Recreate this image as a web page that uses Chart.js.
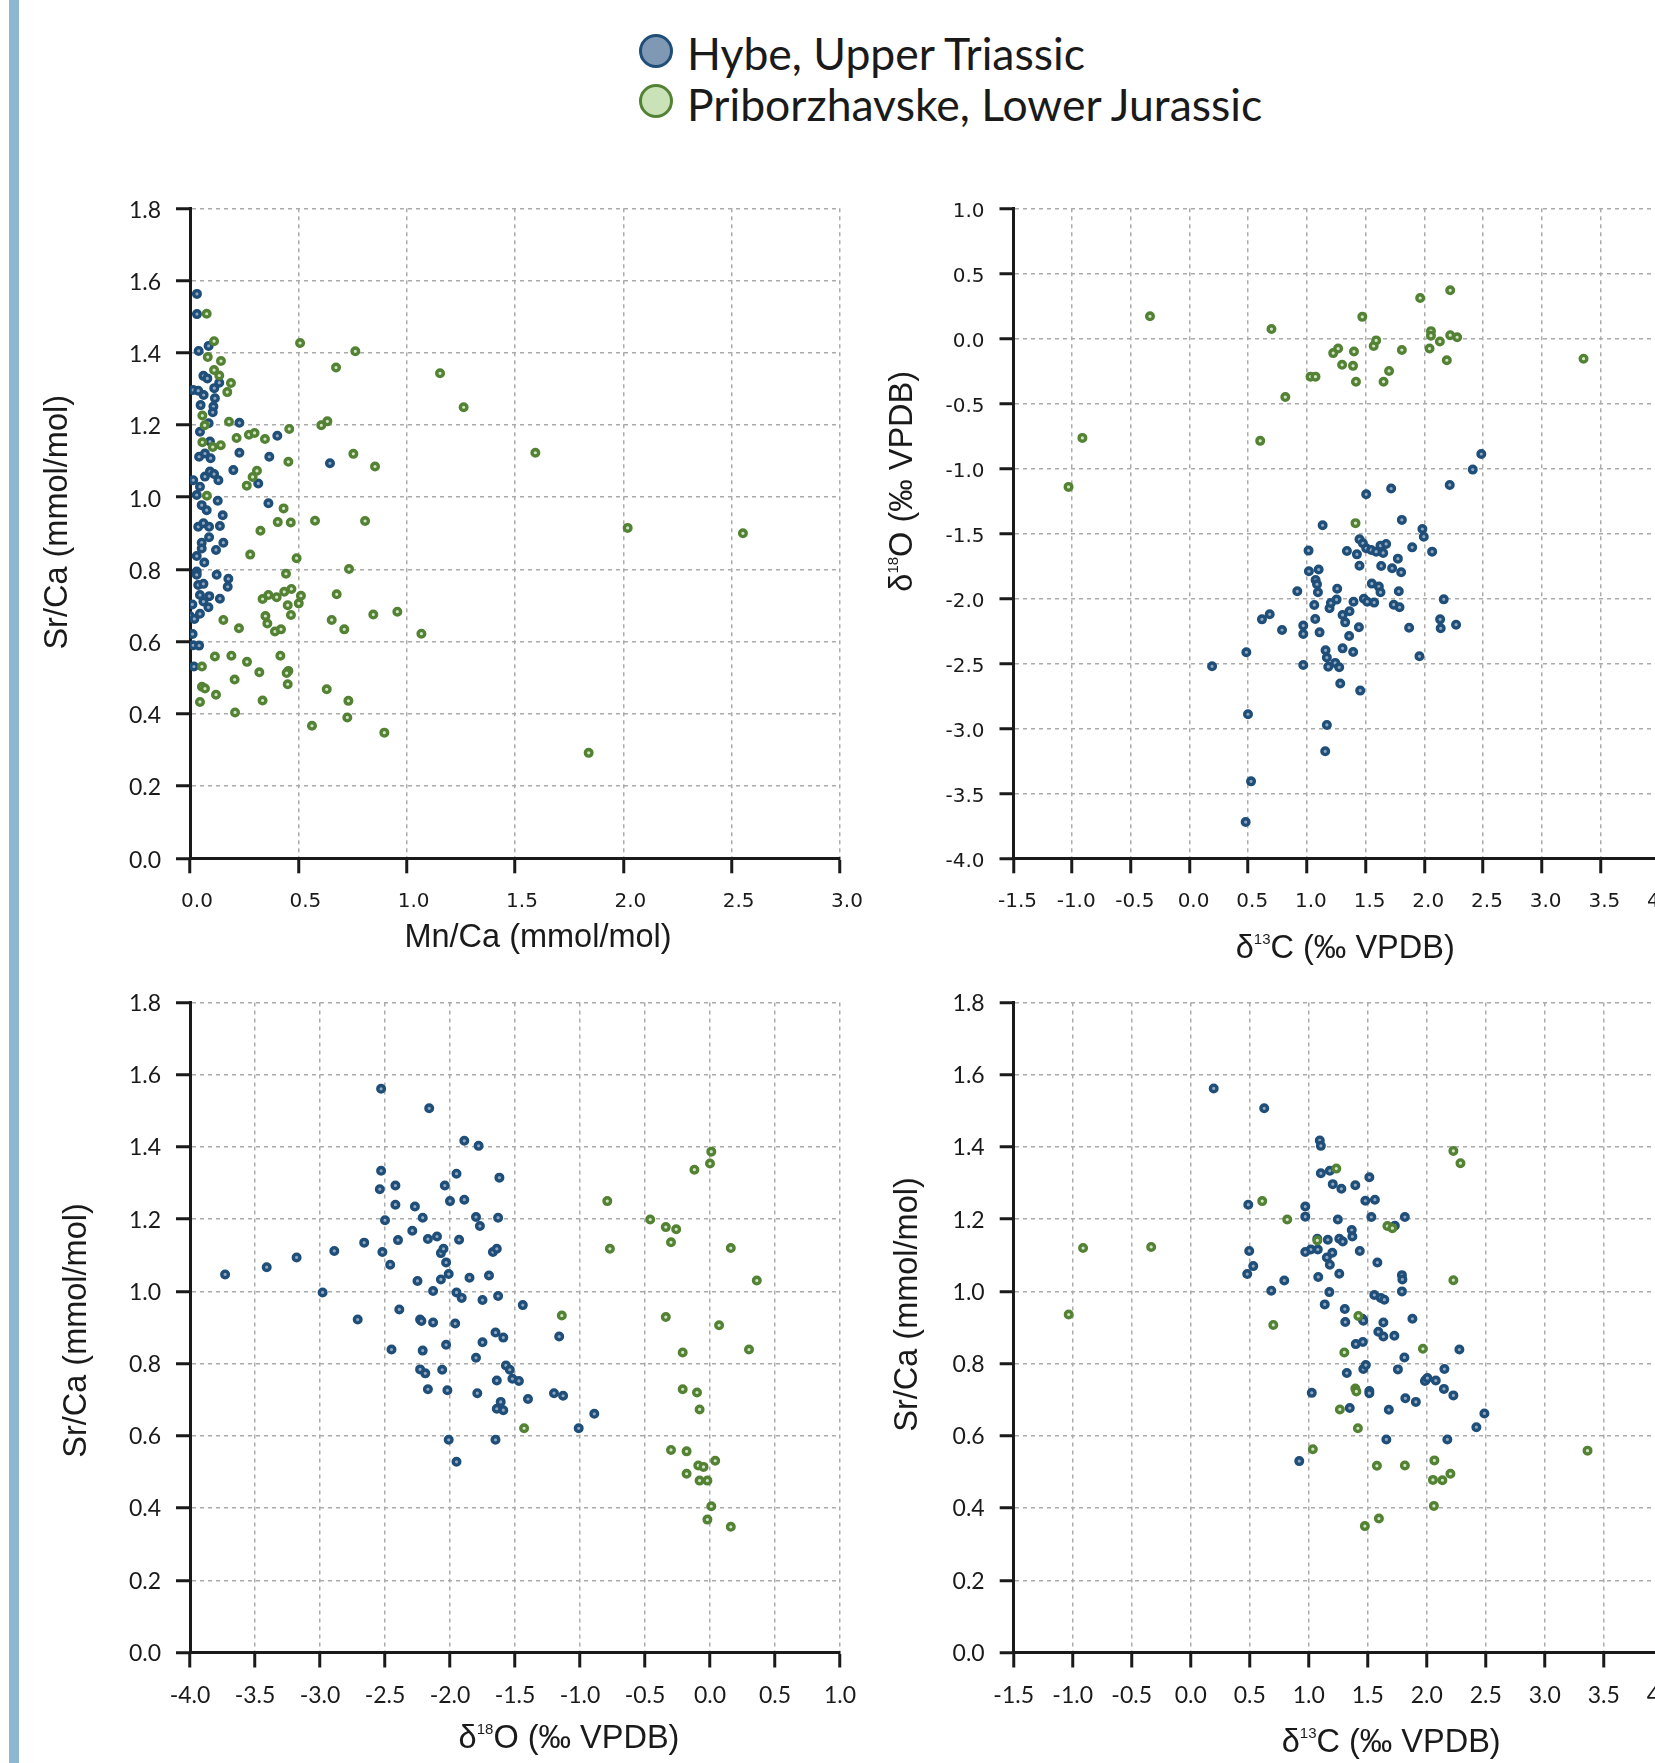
<!DOCTYPE html>
<html>
<head>
<meta charset="utf-8">
<script src="https://cdn.jsdelivr.net/npm/chart.js@4.4.1/dist/chart.umd.min.js"></script>
<style>
html,body{margin:0;padding:0;width:1655px;height:1763px;overflow:hidden;background:#ffffff;}
#bar{position:absolute;left:9px;top:0;width:10px;height:1763px;background:#8db7d1;}
canvas{position:absolute;}
#legend{position:absolute;left:639px;top:25.3px;font-family:Lato,sans-serif;font-size:44.5px;color:#1a1a1a;}
.row{height:50.6px;display:flex;align-items:center;white-space:nowrap;}
.dot{width:28px;height:28px;border-radius:50%;border:3px solid;margin-right:14px;flex:none;}
.lab{padding-top:4px;}
</style>
</head>
<body>
<div id="bar"></div>
<div id="legend"></div>
<canvas id="cA"></canvas>
<canvas id="cB"></canvas>
<canvas id="cC"></canvas>
<canvas id="cD"></canvas>
<script>
// ---------- series ----------
const seriesNames = ['Hybe, Upper Triassic', 'Priborzhavske, Lower Jurassic'];
const seriesLine  = ['#1f4e79', '#548235'];
const seriesFill  = ['#8ea8c3', '#d3e6c3'];
const legendFill  = ['#7f99b5', '#c9e2b8'];

// ---------- axis ranges [min, max, step] ----------
const mnCaRange  = [0, 3, 0.5];
const srCaRange  = [0, 1.8, 0.2];
const d13CRange  = [-1.5, 4, 0.5];
const d18ORangeA = [-4, 1, 0.5];   // as y in panel B
const d18ORangeC = [-4, 1, 0.5];   // as x in panel C

// ---------- axis titles ----------
const titleSrCa = ['Sr/Ca (mmol/mol)'];
const titleMnCa = ['Mn/Ca (mmol/mol)'];
const titleD13C = ['\u03B4', {sup: '13'}, 'C (\u2030 VPDB)'];
const titleD18O = ['\u03B4', {sup: '18'}, 'O (\u2030 VPDB)'];

// ---------- Panel A: Mn/Ca vs Sr/Ca ----------
const hybeMnSr = [[0.032,1.563],[0.032,1.507],[0.040,1.405],[0.086,1.419],[0.062,1.336],[0.080,1.329],[0.015,1.297],[0.038,1.295],[0.063,1.283],[0.112,1.302],[0.135,1.317],[0.115,1.274],[0.049,1.255],[0.108,1.251],[0.105,1.235],[0.086,1.205],[0.228,1.206],[0.046,1.181],[0.092,1.154],[0.042,1.112],[0.069,1.121],[0.095,1.108],[0.228,1.123],[0.200,1.075],[0.015,1.047],[0.046,1.029],[0.069,1.057],[0.092,1.071],[0.111,1.064],[0.131,1.047],[0.031,1.006],[0.054,0.978],[0.077,0.964],[0.128,0.990],[0.315,1.038],[0.366,1.112],[0.403,1.170],[0.362,0.983],[0.151,0.950],[0.646,1.094],[0.038,0.918],[0.062,0.928],[0.088,0.918],[0.138,0.920],[0.088,0.889],[0.054,0.874],[0.154,0.874],[0.120,0.854],[0.031,0.837],[0.054,0.858],[0.066,0.819],[0.031,0.794],[0.031,0.785],[0.123,0.785],[0.177,0.774],[0.174,0.752],[0.038,0.757],[0.062,0.760],[0.046,0.729],[0.089,0.726],[0.062,0.711],[0.138,0.719],[0.085,0.695],[0.011,0.703],[0.046,0.677],[0.000,0.671],[0.020,0.663],[0.012,0.621],[0.015,0.590],[0.042,0.589],[0.018,0.531]];
const pribMnSr = [[0.077,1.508],[0.111,1.432],[0.082,1.388],[0.143,1.377],[0.111,1.352],[0.135,1.337],[0.189,1.316],[0.172,1.291],[0.057,1.226],[0.068,1.199],[0.180,1.209],[0.057,1.152],[0.105,1.139],[0.142,1.144],[0.215,1.164],[0.272,1.173],[0.298,1.178],[0.346,1.161],[0.458,1.189],[0.454,1.098],[0.309,1.073],[0.289,1.056],[0.262,1.032],[0.078,1.004],[0.432,0.969],[0.405,0.931],[0.465,0.930],[0.325,0.907],[0.577,0.935],[0.808,0.934],[0.278,0.841],[0.492,0.831],[0.443,0.788],[0.734,0.801],[0.335,0.718],[0.362,0.729],[0.400,0.723],[0.435,0.738],[0.468,0.746],[0.512,0.727],[0.451,0.701],[0.502,0.706],[0.677,0.731],[0.348,0.671],[0.357,0.650],[0.466,0.674],[0.654,0.660],[0.846,0.675],[0.957,0.683],[0.154,0.660],[0.226,0.637],[0.392,0.628],[0.420,0.634],[0.712,0.634],[1.068,0.622],[0.508,1.427],[0.674,1.359],[0.763,1.404],[0.606,1.199],[0.634,1.210],[0.754,1.120],[0.854,1.085],[1.154,1.343],[1.263,1.249],[1.594,1.123],[2.020,0.915],[2.552,0.900],[1.840,0.292],[0.055,0.531],[0.115,0.559],[0.191,0.561],[0.263,0.544],[0.320,0.515],[0.417,0.561],[0.454,0.519],[0.446,0.513],[0.451,0.482],[0.206,0.495],[0.055,0.475],[0.069,0.470],[0.120,0.453],[0.046,0.433],[0.335,0.437],[0.208,0.404],[0.631,0.468],[0.731,0.436],[0.726,0.390],[0.563,0.367],[0.897,0.348]];

// ---------- Panel B: d13C vs d18O ----------
const hybeCO = [[0.192,-2.523],[0.484,-2.415],[0.498,-2.892],[0.524,-3.408],[0.478,-3.721],[0.617,-2.162],[0.683,-2.123],[0.788,-2.244],[0.918,-1.946],[0.969,-2.210],[0.969,-2.274],[0.969,-2.513],[1.014,-1.633],[1.017,-1.792],[1.100,-1.779],[1.074,-1.859],[1.086,-1.892],[1.094,-1.954],[1.063,-2.051],[1.071,-2.159],[1.108,-2.262],[1.134,-1.438],[1.159,-2.400],[1.170,-2.456],[1.182,-2.526],[1.241,-2.497],[1.275,-2.531],[1.284,-2.656],[1.170,-2.974],[1.156,-3.177],[1.193,-2.077],[1.204,-2.036],[1.253,-2.010],[1.258,-1.926],[1.304,-2.128],[1.326,-2.185],[1.363,-2.100],[1.360,-2.290],[1.304,-2.385],[1.394,-2.413],[1.454,-2.710],[1.443,-2.223],[1.341,-1.636],[1.426,-1.662],[1.448,-1.749],[1.397,-2.026],[1.448,-1.546],[1.477,-1.577],[1.505,-1.615],[1.548,-1.628],[1.590,-1.641],[1.627,-1.595],[1.675,-1.582],[1.650,-1.651],[1.633,-1.751],[1.505,-1.200],[1.718,-1.156],[1.809,-1.397],[1.897,-1.608],[1.726,-1.769],[1.803,-1.800],[1.775,-1.695],[1.553,-1.887],[1.613,-1.910],[1.627,-1.954],[1.485,-2.003],[1.514,-2.026],[1.573,-2.033],[1.783,-1.946],[1.740,-2.049],[1.789,-2.069],[1.871,-2.226],[1.984,-1.467],[1.996,-1.526],[2.067,-1.641],[2.166,-2.008],[2.135,-2.162],[2.140,-2.231],[2.271,-2.203],[1.959,-2.446],[2.217,-1.128],[2.413,-1.010],[2.486,-0.890]];
const pribCO = [[-1.031,-1.143],[-0.913,-0.766],[-0.337,0.169],[0.602,-0.789],[0.698,0.071],[0.816,-0.452],[1.031,-0.295],[1.073,-0.295],[1.224,-0.114],[1.266,-0.079],[1.300,-0.204],[1.393,-0.212],[1.401,-0.102],[1.418,-0.334],[1.472,0.165],[1.569,-0.059],[1.590,-0.016],[1.653,-0.334],[1.700,-0.251],[1.809,-0.090],[1.965,0.310],[2.057,0.055],[2.057,0.020],[2.045,-0.079],[2.133,-0.024],[2.192,-0.169],[2.221,0.369],[2.221,0.024],[2.280,0.008],[3.357,-0.157],[1.414,-1.422]];

// ---------- Panel C: d18O vs Sr/Ca ----------
const hybeOSr = [[-3.73,1.047],[-3.41,1.067],[-3.18,1.094],[-2.89,1.112],[-2.98,0.997],[-2.71,0.922],[-2.66,1.135],[-2.53,1.561],[-2.53,1.334],[-2.54,1.283],[-2.50,1.197],[-2.52,1.109],[-2.46,1.074],[-2.39,0.950],[-2.45,0.839],[-2.42,1.293],[-2.42,1.240],[-2.40,1.142],[-2.27,1.235],[-2.29,1.168],[-2.21,1.204],[-2.25,1.029],[-2.23,0.922],[-2.22,0.918],[-2.16,1.507],[-2.17,1.145],[-2.10,1.152],[-2.07,1.106],[-2.05,1.118],[-2.03,1.080],[-2.01,1.048],[-2.07,1.033],[-2.13,1.001],[-2.13,0.914],[-2.21,0.836],[-2.23,0.784],[-2.19,0.773],[-2.17,0.729],[-2.04,1.293],[-2.00,1.250],[-1.95,1.326],[-1.89,1.417],[-1.78,1.403],[-1.89,1.254],[-1.93,1.143],[-1.95,0.997],[-1.91,0.982],[-1.96,0.911],[-2.03,0.852],[-2.06,0.783],[-2.02,0.726],[-2.01,0.589],[-1.95,0.528],[-1.85,1.038],[-1.80,1.206],[-1.77,1.181],[-1.75,0.976],[-1.75,0.859],[-1.80,0.816],[-1.79,0.718],[-1.70,1.044],[-1.67,1.109],[-1.64,1.118],[-1.63,1.204],[-1.62,1.315],[-1.63,0.987],[-1.65,0.886],[-1.59,0.872],[-1.57,0.795],[-1.54,0.783],[-1.64,0.753],[-1.52,0.758],[-1.47,0.752],[-1.61,0.694],[-1.64,0.675],[-1.59,0.671],[-1.65,0.589],[-1.44,0.962],[-1.40,0.702],[-1.20,0.718],[-1.13,0.711],[-1.16,0.875],[-0.89,0.661],[-1.01,0.621]];
const pribOSr = [[-1.43,0.621],[-1.14,0.933],[-0.79,1.250],[-0.77,1.118],[-0.46,1.199],[-0.34,1.178],[-0.26,1.172],[-0.30,1.136],[-0.12,1.337],[0.01,1.387],[0.00,1.354],[0.16,1.120],[0.36,1.030],[-0.34,0.929],[0.07,0.906],[-0.21,0.831],[0.30,0.839],[-0.21,0.729],[-0.10,0.720],[-0.08,0.673],[-0.30,0.561],[-0.18,0.557],[0.04,0.531],[-0.09,0.518],[-0.05,0.514],[-0.18,0.495],[-0.08,0.476],[-0.02,0.476],[0.01,0.405],[-0.02,0.368],[0.16,0.348]];

// ---------- Panel D: d13C vs Sr/Ca ----------
const hybeCSr = [[0.195,1.562],[0.623,1.507],[1.094,1.418],[1.103,1.403],[1.103,1.327],[1.179,1.334],[1.204,1.297],[1.277,1.284],[1.395,1.294],[1.514,1.316],[1.480,1.251],[1.561,1.254],[1.531,1.206],[1.815,1.206],[1.730,1.182],[0.488,1.240],[0.971,1.235],[0.971,1.207],[1.247,1.199],[1.365,1.170],[1.370,1.152],[1.259,1.146],[1.289,1.138],[1.162,1.143],[1.073,1.146],[1.077,1.116],[1.018,1.116],[0.971,1.109],[0.496,1.112],[0.530,1.070],[0.479,1.048],[0.793,1.030],[0.683,1.002],[1.081,1.040],[1.154,1.094],[1.200,1.107],[1.179,1.074],[1.259,1.049],[1.433,1.112],[1.582,1.080],[1.175,0.998],[1.136,0.964],[1.306,0.951],[1.310,0.915],[1.455,0.924],[1.463,0.919],[1.556,0.990],[1.611,0.982],[1.641,0.977],[1.790,1.045],[1.794,1.033],[1.790,1.000],[1.633,0.914],[1.879,0.924],[1.590,0.888],[1.633,0.875],[1.726,0.877],[1.399,0.854],[1.459,0.860],[1.463,0.785],[1.484,0.796],[1.323,0.774],[1.756,0.784],[1.811,0.817],[1.514,0.724],[1.514,0.718],[1.026,0.719],[1.348,0.677],[1.679,0.672],[1.819,0.704],[1.908,0.694],[1.993,0.755],[1.985,0.752],[2.006,0.760],[2.077,0.753],[2.150,0.785],[2.146,0.730],[2.226,0.712],[2.277,0.839],[2.489,0.662],[2.421,0.624],[2.175,0.590],[1.658,0.590],[0.920,0.530]];
const pribCSr = [[-1.034,0.936],[-0.912,1.120],[-0.335,1.123],[0.606,1.250],[0.818,1.199],[0.700,0.907],[1.073,1.141],[1.234,1.340],[1.421,0.932],[1.302,0.831],[1.395,0.731],[1.404,0.723],[1.264,0.673],[1.417,0.621],[1.035,0.563],[1.667,1.181],[1.709,1.175],[1.968,0.841],[2.226,1.389],[2.286,1.355],[2.226,1.031],[1.578,0.517],[1.815,0.518],[2.065,0.532],[2.053,0.478],[2.133,0.477],[2.201,0.495],[2.061,0.406],[1.595,0.371],[1.476,0.350],[3.363,0.559]];

// ---------- legend (HTML) ----------
const legendEl = document.getElementById('legend');
seriesNames.forEach((name, i) => {
  const row = document.createElement('div'); row.className = 'row';
  const dot = document.createElement('span'); dot.className = 'dot';
  dot.style.background = legendFill[i]; dot.style.borderColor = seriesLine[i];
  const lab = document.createElement('span'); lab.className = 'lab'; lab.textContent = name;
  row.appendChild(dot); row.appendChild(lab); legendEl.appendChild(row);
});

// ---------- axis title plugin (supports superscripts) ----------
function drawRich(ctx, parts, size, family, color) {
  const supSize = Math.round(size * 0.45);
  const segs = parts.map(p => typeof p === 'string'
    ? {t: p, s: size, dy: 0}
    : {t: p.sup, s: supSize, dy: -size * 0.42});
  let total = 0;
  segs.forEach(sg => { ctx.font = sg.s + 'px "' + family + '"'; sg.w = ctx.measureText(sg.t).width; total += sg.w; });
  let x = -total / 2;
  const base = size * 0.26;
  ctx.fillStyle = color; ctx.textBaseline = 'alphabetic'; ctx.textAlign = 'left';
  segs.forEach(sg => { ctx.font = sg.s + 'px "' + family + '"'; ctx.fillText(sg.t, x, base + sg.dy); x += sg.w; });
}
const axisTitles = {
  id: 'axisTitles',
  afterDraw(chart, args, opts) {
    const {ctx, chartArea: a} = chart;
    (opts.items || []).forEach(t => {
      ctx.save();
      if (t.axis === 'x') {
        ctx.translate((a.left + a.right) / 2 + t.shift, a.bottom + t.gap);
      } else {
        ctx.translate(a.left - t.gap, (a.top + a.bottom) / 2 + t.shift);
        ctx.rotate(-Math.PI / 2);
      }
      drawRich(ctx, t.parts, opts.size, opts.family, opts.color);
      ctx.restore();
    });
  }
};

// ---------- panel factory ----------
const LATO = {family: 'Lato', size: 23};
const DEJA = {family: 'DejaVu Sans', size: 20};
const Y_W = 110, X_H = 60;

function axisCfg(range, font, which, labelPad, labelOffset) {
  return {
    type: 'linear', min: range[0], max: range[1],
    afterFit: s => { if (which === 'x') s.height = X_H; else s.width = Y_W; },
    ticks: {
      stepSize: range[2], autoSkip: false, maxRotation: 0, minRotation: 0,
      padding: labelPad, labelOffset: labelOffset, color: '#1a1a1a', font: font,
      callback: v => Number(v).toFixed(1)
    },
    grid: {
      color: c => (c.tick && Math.abs(c.tick.value - range[0]) < 1e-9) ? 'rgba(0,0,0,0)' : '#ababab',
      lineWidth: 1.5, drawTicks: true,
      tickColor: '#1a1a1a', tickWidth: 3, tickLength: which === 'x' ? 15 : 14, tickBorderDash: []
    },
    border: {display: true, color: '#1a1a1a', width: 3, dash: [4, 4]}
  };
}

function makePanel(id, rect, area, xr, yr, xFont, yFont, xPad, xOff, yOff, hybe, prib, titles) {
  const cv = document.getElementById(id);
  cv.width = rect.w; cv.height = rect.h;
  cv.style.left = rect.x + 'px'; cv.style.top = rect.y + 'px';
  const mk = (pts, i, order) => ({
    label: seriesNames[i],
    data: pts.map(p => ({x: p[0], y: p[1]})),
    pointRadius: 3.3, pointBorderWidth: 3.4,
    pointBackgroundColor: seriesFill[i], pointBorderColor: seriesLine[i],
    backgroundColor: seriesFill[i], borderColor: seriesLine[i],
    showLine: false, order: order
  });
  new Chart(cv, {
    type: 'scatter',
    data: {datasets: [mk(hybe, 0, 1), mk(prib, 1, 0)]},
    options: {
      responsive: false, animation: false, events: [],
      layout: {padding: {
        left: area.l - rect.x - Y_W,
        top: area.t - rect.y,
        right: rect.x + rect.w - area.r,
        bottom: rect.y + rect.h - area.b - X_H
      }},
      plugins: {
        legend: {display: false}, tooltip: {enabled: false},
        axisTitles: {items: titles, size: 32.5, family: 'Liberation Sans', color: '#1a1a1a'}
      },
      scales: {x: axisCfg(xr, xFont, 'x', xPad, xOff), y: axisCfg(yr, yFont, 'y', 15, yOff)}
    },
    plugins: [axisTitles]
  });
}

makePanel('cA', {x: 20, y: 160, w: 860, h: 820}, {l: 190, t: 208.3, r: 840, b: 858.3},
  mnCaRange, srCaRange, DEJA, LATO, 16, 7, 2, hybeMnSr, pribMnSr,
  [{axis: 'y', parts: titleSrCa, gap: 131, shift: -11}, {axis: 'x', parts: titleMnCa, gap: 80, shift: 23}]);

makePanel('cB', {x: 880, y: 160, w: 820, h: 820}, {l: 1013.5, t: 208.3, r: 1659, b: 858.3},
  d13CRange, d18ORangeA, DEJA, DEJA, 16, 4, 3, hybeCO, pribCO,
  [{axis: 'y', parts: titleD18O, gap: 110, shift: -52}, {axis: 'x', parts: titleD13C, gap: 91, shift: 9}]);

makePanel('cC', {x: 20, y: 950, w: 860, h: 813}, {l: 190, t: 1002.5, r: 840, b: 1652.5},
  d18ORangeC, srCaRange, LATO, LATO, 14, 0, 1, hybeOSr, pribOSr,
  [{axis: 'y', parts: titleSrCa, gap: 112, shift: 3}, {axis: 'x', parts: titleD18O, gap: 87, shift: 54}]);

makePanel('cD', {x: 880, y: 950, w: 820, h: 813}, {l: 1013.7, t: 1002.5, r: 1662.7, b: 1652.5},
  d13CRange, srCaRange, LATO, LATO, 14, 0, 1, hybeCSr, pribCSr,
  [{axis: 'y', parts: titleSrCa, gap: 105, shift: -23}, {axis: 'x', parts: titleD13C, gap: 91, shift: 53}]);
</script>
</body>
</html>
